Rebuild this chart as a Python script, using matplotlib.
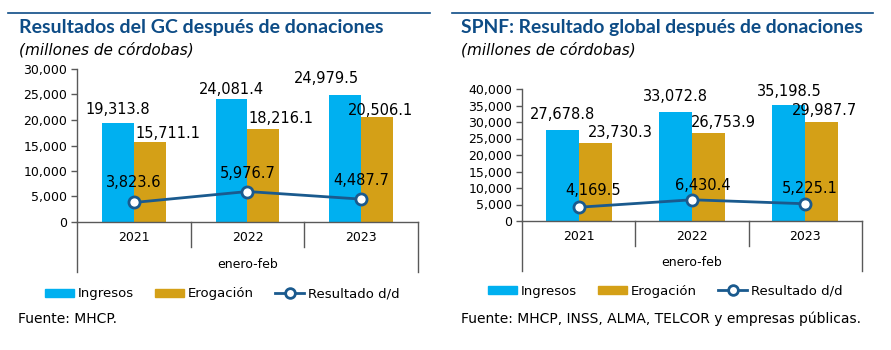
import matplotlib.pyplot as plt
from matplotlib.patches import Patch
from matplotlib.lines import Line2D

years = ['2021', '2022', '2023']

# Resultados del GC
gc_ingresos = [19313.8, 24081.4, 24979.5]
gc_erogacion = [15711.1, 18216.1, 20506.1]
gc_resultado = [3823.6, 5976.7, 4487.7]

# SPNF
spnf_ingresos = [27678.8, 33072.8, 35198.5]
spnf_erogacion = [23730.3, 26753.9, 29987.7]
spnf_resultado = [4169.5, 6430.4, 5225.1]

C_ING = '#00b0f0'
C_ERO = '#d4a017'
C_LINE = '#1a5a8e'
C_TITLE = '#0d4c86'
C_AXIS = '#595959'

fig = plt.figure(figsize=(8.91, 3.5), dpi=100)
W, H = 891, 350


def fx(px):
    return px / W


def fy(py):
    return 1 - py / H


def fmt(v):
    return f'{v:,.1f}'


def panel(rect, ymax, ing, ero, res, bw, offs_ing, offs_ero, offs_res):
    ax = fig.add_axes(rect)
    x = range(len(years))
    ax.bar([i - bw / 2 for i in x], ing, width=bw, color=C_ING, zorder=2)
    ax.bar([i + bw / 2 for i in x], ero, width=bw, color=C_ERO, zorder=2)
    ax.plot(x, res, color=C_LINE, lw=2, marker='o', ms=8, mfc='white',
            mec=C_LINE, mew=2, zorder=3)
    ax.set_xlim(-0.5, 2.5)
    ax.set_ylim(0, ymax)
    ax.set_yticks(range(0, ymax + 1, 5000))
    ax.set_yticklabels([f'{t:,}' for t in range(0, ymax + 1, 5000)])
    ax.tick_params(axis='y', labelsize=9, length=4, width=1, color=C_AXIS, pad=3)
    ax.set_xticks([])
    for s in ['top', 'right']:
        ax.spines[s].set_visible(False)
    for s in ['left', 'bottom']:
        ax.spines[s].set_color(C_AXIS)
        ax.spines[s].set_linewidth(1)
    hpx = rect[3] * H
    tr = ax.get_xaxis_transform()
    for xs, depth in [(-0.5, 50), (0.5, 25), (1.5, 25), (2.5, 50)]:
        ax.plot([xs, xs], [0, -depth / hpx], color=C_AXIS, lw=1,
                transform=tr, clip_on=False)
    for i, y in enumerate(years):
        ax.text(i, -16 / hpx, y, transform=tr, ha='center', va='center',
                fontsize=9)
    ax.text(1, -42 / hpx, 'enero-feb', transform=tr, ha='center',
            va='center', fontsize=9)
    for i in x:
        for vals, offs, xo in [(ing, offs_ing, -bw / 2), (ero, offs_ero, bw / 2),
                               (res, offs_res, 0)]:
            dx, dy = offs[i]
            ax.annotate(fmt(vals[i]), (i + xo, vals[i]), xytext=(dx * 0.72, dy * 0.72),
                        textcoords='offset points', ha='center', va='center',
                        fontsize=10.5, zorder=4)
    return ax


panel([fx(77), fy(222), fx(418) - fx(77), (222 - 69) / H], 30000,
      gc_ingresos, gc_erogacion, gc_resultado, 0.28,
      [(0, 13.5), (0, 10), (-19, 16.6)],
      [(18, 8), (18, 11), (3, 7.4)],
      [(0, 20), (0, 18), (0, 19)])

panel([fx(522), fy(221), fx(862) - fx(522), (221 - 89) / H], 40000,
      spnf_ingresos, spnf_erogacion, spnf_resultado, 0.29,
      [(0, 15), (0, 15), (0, 13)],
      [(25, 10), (15, 10), (3, 12)],
      [(14, 17), (11, 14), (4, 15)])

# top rules, titles, subtitles
for x0, x1 in [(8, 430), (452, 873)]:
    fig.add_artist(Line2D([fx(x0), fx(x1)], [fy(13), fy(13)], color=C_TITLE, lw=1.2))

fig.text(fx(19), fy(28), 'Resultados del GC después de donaciones', fontsize=14,
         fontweight='bold', color=C_TITLE, family='Lato', va='center')
fig.text(fx(461), fy(28), 'SPNF: Resultado global después de donaciones', fontsize=13.9,
         fontweight='bold', color=C_TITLE, family='Lato', va='center')
fig.text(fx(19), fy(50), '(millones de córdobas)', fontsize=11, style='italic',
         va='center')
fig.text(fx(461), fy(50), '(millones de córdobas)', fontsize=11, style='italic',
         va='center')

handles = [Patch(color=C_ING, label='Ingresos'),
           Patch(color=C_ERO, label='Erogación'),
           Line2D([], [], color=C_LINE, lw=2, marker='o', ms=7, mfc='white',
                  mec=C_LINE, mew=2, label='Resultado d/d')]
for xl, yl in [(45, 294), (488, 291)]:
    fig.legend(handles=handles, loc='center left', bbox_to_anchor=(fx(xl), fy(yl)),
               ncol=3, frameon=False, fontsize=9.5, handlelength=2.2,
               handleheight=0.6, handletextpad=0.3, columnspacing=1.6,
               borderpad=0, borderaxespad=0)

fig.text(fx(18), fy(319), 'Fuente: MHCP.', fontsize=10, va='center')
fig.text(fx(461), fy(319), 'Fuente: MHCP, INSS, ALMA, TELCOR y empresas públicas.',
         fontsize=10, va='center')

fig.savefig('out.png', dpi=100)
